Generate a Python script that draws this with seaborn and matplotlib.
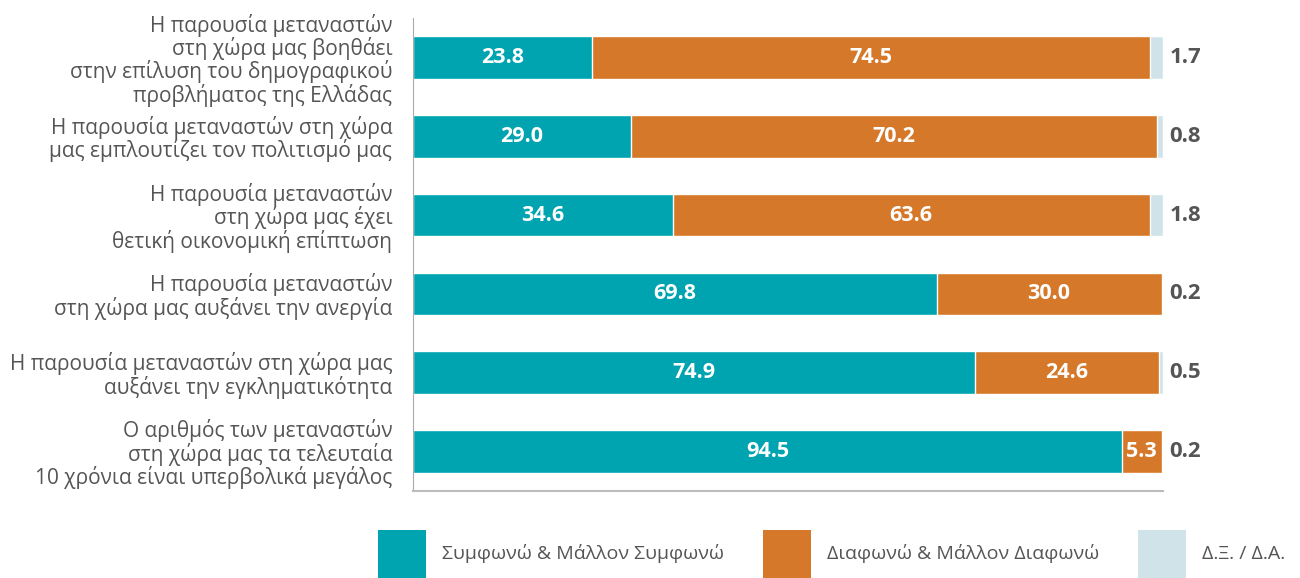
import numpy as np
import pandas as pd
import matplotlib
matplotlib.use("Agg")
import matplotlib.pyplot as plt
from matplotlib.patches import Patch
import seaborn as sns

# Δεδομένα
categories = [
    "Η παρουσία μεταναστών\nστη χώρα μας βοηθάει\nστην επίλυση του δημογραφικού\nπροβλήματος της Ελλάδας",
    "Η παρουσία μεταναστών στη χώρα\nμας εμπλουτίζει τον πολιτισμό μας",
    "Η παρουσία μεταναστών\nστη χώρα μας έχει\nθετική οικονομική επίπτωση",
    "Η παρουσία μεταναστών\nστη χώρα μας αυξάνει την ανεργία",
    "Η παρουσία μεταναστών στη χώρα μας\nαυξάνει την εγκληματικότητα",
    "Ο αριθμός των μεταναστών\nστη χώρα μας τα τελευταία\n10 χρόνια είναι υπερβολικά μεγάλος",
]
agree = [23.8, 29.0, 34.6, 69.8, 74.9, 94.5]
disagree = [74.5, 70.2, 63.6, 30.0, 24.6, 5.3]
dont_know = [1.7, 0.8, 1.8, 0.2, 0.5, 0.2]
series_names = ["Συμφωνώ & Μάλλον Συμφωνώ", "Διαφωνώ & Μάλλον Διαφωνώ", "Δ.Ξ. / Δ.Α."]
colors = ["#00A3B0", "#D57829", "#D0E3E8"]

sns.set_style("white")
plt.rcParams["font.family"] = ["Open Sans", "DejaVu Sans"]

df = pd.DataFrame({"cat": categories, "agree": agree, "disagree": disagree, "dk": dont_know})
df["cum2"] = df["agree"] + df["disagree"]
df["cum3"] = df["cum2"] + df["dk"]

fig = plt.figure(figsize=(13, 5.78), dpi=100)
ax = fig.add_axes([413 / 1300, 1 - 491 / 578, 750 / 1300, 473 / 578])

# στοιβαγμένες μπάρες (επικάλυψη αθροιστικών τιμών)
sns.barplot(data=df, x="cum3", y="cat", color=colors[2], width=0.54, saturation=1, ax=ax)
sns.barplot(data=df, x="cum2", y="cat", color=colors[1], width=0.54, saturation=1, ax=ax)
sns.barplot(data=df, x="agree", y="cat", color=colors[0], width=0.54, saturation=1, ax=ax)

for i, row in df.iterrows():
    ax.text(row["agree"] / 2, i, f"{row['agree']:.1f}", ha="center", va="center",
            color="white", fontsize=15.5, fontweight="bold")
    ax.text(row["agree"] + row["disagree"] / 2, i, f"{row['disagree']:.1f}", ha="center",
            va="center", color="white", fontsize=15.5, fontweight="bold")
    ax.text(row["cum3"] + 0.9, i, f"{row['dk']:.1f}", ha="left", va="center",
            color="#555555", fontsize=16, fontweight="bold")

ax.set_xlim(0, 100)
ax.set_ylim(len(categories) - 0.5, -0.5)
ax.set_xlabel("")
ax.set_ylabel("")
ax.set_xticks([])
ax.set_yticks(np.arange(-0.5, len(categories), 1), minor=True)
ax.tick_params(axis="y", which="major", length=0, pad=15, labelsize=15, labelcolor="#555555")
ax.tick_params(axis="y", which="minor", length=13, width=1, direction="in", color="#999999")
for lbl in ax.get_yticklabels():
    lbl.set_multialignment("right")
    lbl.set_linespacing(1.02)
sns.despine(ax=ax, top=True, right=True)
ax.spines["left"].set_color("#aaaaaa")
ax.spines["bottom"].set_color("#bbbbbb")
ax.spines["bottom"].set_linewidth(1.5)

handles = [Patch(facecolor=c, edgecolor="none") for c in colors]
fig.legend(handles, series_names, loc="upper left", bbox_to_anchor=(378 / 1300, 48 / 578),
           ncol=3, frameon=False, fontsize=14, labelcolor="#555555",
           handlelength=2.47, handleheight=3.42, handletextpad=0.82, columnspacing=2.0,
           borderpad=0, borderaxespad=0)

fig.savefig("out.png", dpi=100)
